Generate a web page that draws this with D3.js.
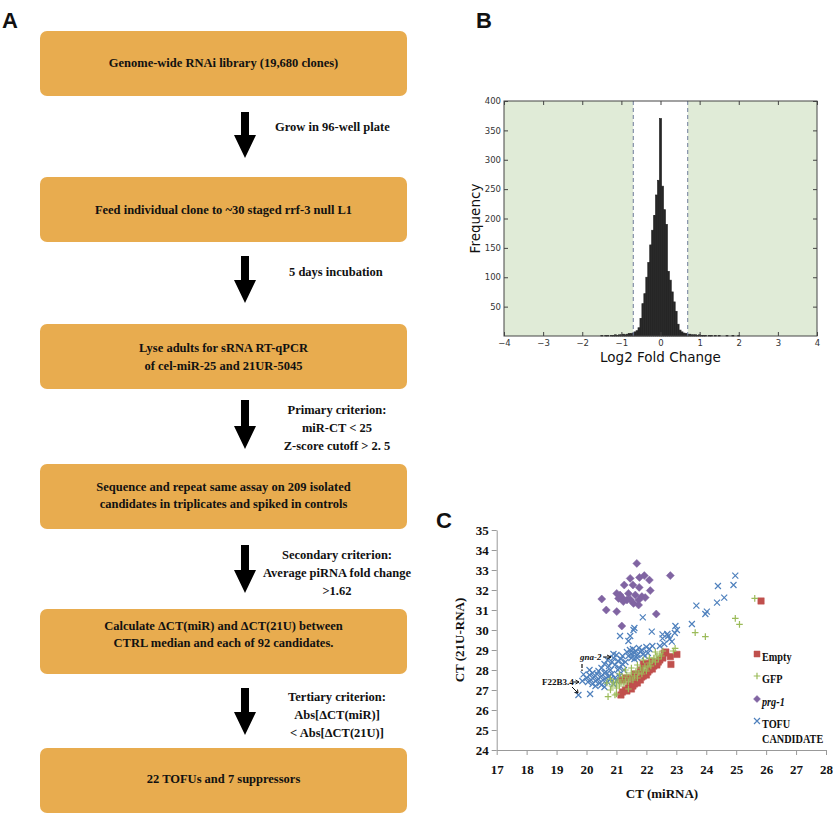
<!DOCTYPE html>
<html><head><meta charset="utf-8">
<script src="https://cdn.jsdelivr.net/npm/d3@7"></script>
<style>body{margin:0;background:#fff} svg{display:block}</style>
</head><body>
<svg id="c" width="833" height="814"></svg>
<script>
// ---------------- DATA ----------------
// Panel A: flow chart steps and transitions
const steps = [
  ["Genome-wide RNAi library (19,680 clones)"],
  ["Feed individual clone to ~30 staged rrf-3 null L1"],
  ["Lyse adults for sRNA RT-qPCR", "of cel-miR-25 and 21UR-5045"],
  ["Sequence and repeat same assay on 209 isolated", "candidates in triplicates and spiked in controls"],
  ["Calculate \u0394CT(miR) and \u0394CT(21U) between", "CTRL median and each of 92 candidates."],
  ["22 TOFUs and 7 suppressors"]
];
const transitions = [
  ["Grow in 96-well plate"],
  ["5 days incubation"],
  ["Primary criterion:", "miR-CT < 25", "Z-score cutoff > 2. 5"],
  ["Secondary criterion:", "Average piRNA fold change", ">1.62"],
  ["Tertiary criterion:", "Abs[\u0394CT(miR)]", "< Abs[\u0394CT(21U)]"]
];

// Panel B: histogram of log2 fold change (bin centre, count), bin width 0.05
const histBinWidth = 0.05;
const histBins = [
  [-1.50,1],[-1.45,0],[-1.40,1],[-1.35,1],[-1.30,0],[-1.25,1],[-1.20,1],[-1.15,2],[-1.10,1],[-1.05,2],
  [-1.00,2],[-0.95,3],[-0.90,2],[-0.85,3],[-0.80,4],[-0.75,4],[-0.70,5],[-0.65,7],[-0.60,9],[-0.55,14],
  [-0.50,30],[-0.45,55],[-0.40,72],[-0.35,100],[-0.30,125],[-0.25,155],[-0.20,180],[-0.15,205],[-0.10,240],[-0.05,265],
  [0.00,370],[0.05,255],[0.10,215],[0.15,190],[0.20,110],[0.25,95],[0.30,75],[0.35,58],[0.40,42],[0.45,20],
  [0.50,10],[0.55,7],[0.60,5],[0.65,4],[0.70,3],[0.75,3],[0.80,2],[0.85,2],[0.90,2],[0.95,1],
  [1.00,2],[1.05,1],[1.10,1],[1.15,1],[1.25,1],[1.30,1],[1.40,1],[1.50,1],[1.70,1],[1.85,1],[2.00,1]
];
const histCutoff = 0.696;            // log2(1.62)
const histXTicks = [-4,-3,-2,-1,0,1,2,3,4];
const histYTicks = [50,100,150,200,250,300,350,400];

// Panel C: scatter CT(miRNA) vs CT(21U-RNA)
const emptyPts = [
  [21.15,26.75],[21.2,26.9],[21.3,27.0],[21.35,26.95],[21.4,27.1],[21.5,27.05],[21.45,27.25],[21.55,27.2],
  [21.6,27.3],[21.65,27.45],[21.7,27.35],[21.75,27.55],[21.8,27.5],[21.85,27.65],[21.9,27.7],[21.95,27.8],
  [22.0,27.75],[22.05,27.9],[22.1,28.0],[22.15,28.1],[22.2,28.05],[22.25,28.2],[22.3,28.3],[22.35,28.25],
  [22.4,28.4],[22.45,28.5],[22.55,28.6],[22.6,28.85],[22.65,28.9],[22.8,28.67],[22.82,28.28],[23.02,28.78],
  [21.2,27.5],[21.3,27.6],[21.5,27.6],[21.6,27.8],[21.8,28.0],[22.0,28.33],[22.18,28.42],[22.35,28.33],
  [21.9,28.3],[25.83,31.45]
];
const gfpPts = [
  [20.72,26.67],[20.95,26.75],[20.68,27.35],[20.8,27.0],[20.85,27.2],[20.9,27.4],[21.0,27.1],[21.0,27.3],
  [21.05,27.5],[21.1,27.2],[21.15,27.4],[21.2,27.65],[21.25,27.3],[21.3,27.5],[21.35,27.75],[21.4,27.4],
  [21.45,27.6],[21.5,27.85],[21.55,27.5],[21.6,27.7],[21.65,27.95],[21.7,27.6],[21.75,27.85],[21.8,28.1],
  [21.85,27.8],[21.9,28.0],[21.95,28.2],[22.0,27.95],[22.05,28.15],[22.1,28.35],[22.15,28.2],[22.2,28.45],
  [22.25,28.6],[22.3,28.4],[22.35,28.7],[22.4,28.55],[22.45,28.8],[22.5,28.7],[22.55,28.95],[22.3,28.9],
  [22.1,28.6],[21.9,28.5],[21.7,28.25],[21.5,28.1],[21.3,28.0],[21.1,27.8],[22.96,29.08],[22.9,28.95],
  [23.63,29.87],[23.97,29.67],[24.97,30.58],[25.11,30.28],[25.62,31.58],[20.8,27.55],[21.0,26.8],[21.4,27.05]
];
const prgPts = [
  [21.68,33.33],[20.51,31.55],[20.66,31.0],[21.01,30.92],[21.18,30.2],[22.33,30.8],[22.8,32.72],[21.93,32.72],
  [21.77,32.63],[21.46,32.58],[22.1,32.5],[21.26,32.25],[21.55,32.25],[21.76,32.13],[22.13,31.97],[21.01,31.83],
  [21.12,31.75],[21.4,31.83],[21.63,31.75],[21.85,31.67],[21.07,31.58],[21.23,31.55],[21.46,31.53],[21.74,31.5],
  [21.96,31.62],[21.23,31.42],[21.57,31.33],[21.74,31.25],[21.35,31.5]
];
const tofuPts = [
  [24.97,32.72],[24.91,32.25],[24.39,32.2],[24.6,31.62],[24.36,31.37],[24.02,30.92],[23.97,30.8],[23.67,31.22],
  [23.52,30.3],[21.88,30.63],[22.97,30.2],[23.02,30.0],[22.95,29.85],[22.73,29.7],[22.78,29.55],[22.7,29.8],
  [22.54,29.78],[22.54,29.58],[22.18,29.92],[21.57,30.0],[21.6,30.1],[21.46,29.7],[21.4,29.45],[21.12,29.7],
  [22.85,29.42],[22.6,29.3],[22.45,29.2],
  [21.35,28.9],[21.45,29.0],[21.5,28.8],[21.55,29.05],[21.6,28.85],[21.65,28.95],[21.7,28.75],[21.75,29.1],
  [21.8,28.9],[21.85,29.0],[21.9,28.8],[22.0,29.15],[22.1,29.05],[22.2,29.2],[21.5,28.6],[21.6,28.55],
  [21.7,28.6],[21.95,28.7],[22.05,28.85],[21.4,28.7],
  [20.5,28.1],[20.6,28.3],[20.7,28.5],[20.75,28.2],[20.8,28.0],[20.85,28.4],[20.9,28.6],[20.95,28.25],
  [21.0,28.75],[21.05,28.45],[21.1,28.1],[21.15,28.55],[21.2,28.3],[21.25,28.0],[21.3,28.4],[20.65,27.9],
  [21.05,28.0],[21.2,28.7],[20.9,28.8],
  [19.73,26.75],[20.12,26.8],[19.9,27.78],[19.86,27.45],[20.0,27.6],[20.05,27.4],[20.1,27.75],[20.15,27.5],
  [20.2,27.3],[20.25,27.65],[20.3,27.45],[20.35,27.8],[20.4,27.55],[20.45,27.35],[20.5,27.7],[20.55,27.5],
  [20.6,27.85],[20.65,27.6],[20.7,27.4],[20.75,27.7],[20.8,27.55],[20.85,27.8],[20.9,27.3],[20.95,27.6],
  [21.0,27.45],[20.3,27.2],[20.5,27.25],[20.1,28.0],[20.4,27.95],[20.2,27.85],[21.1,27.7],[20.6,27.15]
];
const scatterXTicks = [17,18,19,20,21,22,23,24,25,26,27,28];
const scatterYTicks = [24,25,26,27,28,29,30,31,32,33,34,35];
const legendLabels = [["Empty"],["GFP"],["prg-1"],["TOFU","CANDIDATE"]];

// ---------------- DRAW ----------------
const svg = d3.select("#c");
const serif = "'Liberation Serif','Times New Roman',serif";
const sans = "'Liberation Sans',Arial,sans-serif";
const dv = "'DejaVu Sans',sans-serif";

// Panel letters
[["A",2,28],["B",476,28],["C",436,528]].forEach(([t,x,y]) =>
  svg.append("text").attr("x",x).attr("y",y).text(t)
    .attr("font-family",sans).attr("font-weight","bold").attr("font-size",22).attr("fill","#111"));

// ---- Panel A ----
const boxTop = [31,177,324,464,609,748];
const boxH = 65, boxX0 = 40, boxX1 = 407;
const textY = [[63],[210],[348,366],[487,504],[626,643],[779]];
const gA = svg.append("g");
steps.forEach((lines,i) => {
  gA.append("rect").attr("x",boxX0).attr("y",boxTop[i]).attr("width",boxX1-boxX0).attr("height",boxH)
    .attr("rx",7).attr("fill","#e8ac4f");
  lines.forEach((l,j) => gA.append("text").attr("x",(boxX0+boxX1)/2).attr("y",textY[i][j])
    .attr("dy","0.35em").attr("text-anchor","middle").text(l)
    .attr("font-family",serif).attr("font-weight","bold").attr("font-size",12.5).attr("fill","#111"));
});
const arrowY = [[112,158],[256,303],[400,449],[545,593],[688,735]];
const labY = [[127],[272],[410,428,446],[555,573,591],[697,715,733]];
const ax = 245;
transitions.forEach((lines,i) => {
  const [y0,y1] = arrowY[i];
  gA.append("path").attr("d",`M${ax-4},${y0}L${ax+4},${y0}L${ax+4},${y1-23}L${ax+11},${y1-23}L${ax},${y1}L${ax-11},${y1-23}L${ax-4},${y1-23}Z`)
    .attr("fill","#000");
  lines.forEach((l,j) => gA.append("text").attr("x",i<2?(i==0?275:289):337).attr("y",labY[i][j])
    .attr("dy","0.35em").attr("text-anchor",i<2?"start":"middle").text(l)
    .attr("font-family",serif).attr("font-weight","bold").attr("font-size",12.5).attr("fill","#111"));
});

// ---- Panel B ----
const hx = d3.scaleLinear().domain([-4,4]).range([504,817]);
const hy = d3.scaleLinear().domain([0,400]).range([336,101]);
const gB = svg.append("g");
gB.append("rect").attr("x",hx(-4)).attr("y",hy(400)).attr("width",hx(-histCutoff)-hx(-4)).attr("height",hy(0)-hy(400)).attr("fill","#e0ebd7");
gB.append("rect").attr("x",hx(histCutoff)).attr("y",hy(400)).attr("width",hx(4)-hx(histCutoff)).attr("height",hy(0)-hy(400)).attr("fill","#e0ebd7");
gB.selectAll("rect.bar").data(histBins.filter(d=>d[1]>0)).join("rect").attr("class","bar")
  .attr("x",d=>hx(d[0]-histBinWidth/2)).attr("width",d=>hx(d[0]+histBinWidth/2)-hx(d[0]-histBinWidth/2))
  .attr("y",d=>hy(d[1])).attr("height",d=>hy(0)-hy(d[1])).attr("fill","#262626").attr("stroke","#262626").attr("stroke-width",0.7);
[-histCutoff,histCutoff].forEach(v => gB.append("line").attr("x1",hx(v)).attr("x2",hx(v)).attr("y1",hy(0)).attr("y2",hy(400))
  .attr("stroke","#6e7b9a").attr("stroke-width",1).attr("stroke-dasharray","4,3"));
// frame
gB.append("rect").attr("x",hx(-4)).attr("y",hy(400)).attr("width",hx(4)-hx(-4)).attr("height",hy(0)-hy(400))
  .attr("fill","none").attr("stroke","#444").attr("stroke-width",1);
const fmtMinus = d => String(d).replace("-","\u2212");
const xAxB = d3.axisBottom(hx).tickValues(histXTicks).tickSize(-4).tickPadding(4).tickFormat(fmtMinus);
const xAxT = d3.axisTop(hx).tickValues(histXTicks).tickSize(-4).tickFormat("");
const yAxL = d3.axisLeft(hy).tickValues(histYTicks).tickSize(-4).tickPadding(3);
const yAxR = d3.axisRight(hy).tickValues(histYTicks).tickSize(-4).tickFormat("");
[[xAxB,`translate(0,${hy(0)})`],[xAxT,`translate(0,${hy(400)})`],[yAxL,`translate(${hx(-4)},0)`],[yAxR,`translate(${hx(4)},0)`]]
 .forEach(([a,t]) => {
   const g = gB.append("g").attr("transform",t).call(a);
   g.select(".domain").remove();
   g.selectAll(".tick line").attr("stroke","#444");
   g.selectAll("text").attr("font-family",dv).attr("font-size",8.5).attr("fill","#333");
 });
gB.append("text").attr("x",hx(0)).attr("y",362).attr("text-anchor","middle").text("Log2 Fold Change")
  .attr("font-family",dv).attr("font-size",13.5).attr("fill","#111");
gB.append("text").attr("transform",`translate(480,${(hy(0)+hy(400))/2}) rotate(-90)`).attr("text-anchor","middle").text("Frequency")
  .attr("font-family",dv).attr("font-size",13.5).attr("fill","#111");

// ---- Panel C ----
const sx = d3.scaleLinear().domain([17,28]).range([496.7,826]);
const sy = d3.scaleLinear().domain([24,35]).range([750,530]);
const gC = svg.append("g");
const xAx = gC.append("g").attr("transform",`translate(0,750)`).call(d3.axisBottom(sx).tickValues(scatterXTicks).tickSize(5).tickPadding(10).tickSizeOuter(0));
const yAx = gC.append("g").attr("transform",`translate(496.7,0)`).call(d3.axisLeft(sy).tickValues(scatterYTicks).tickSize(5).tickPadding(3).tickSizeOuter(0));
[xAx,yAx].forEach(g => {
  g.select(".domain").attr("stroke","#999");
  g.selectAll(".tick line").attr("stroke","#999");
  g.selectAll("text").attr("font-family",serif).attr("font-weight","bold").attr("font-size",13).attr("fill","#111");
});
gC.append("text").attr("x",662).attr("y",798).attr("text-anchor","middle").text("CT (miRNA)")
  .attr("font-family",serif).attr("font-weight","bold").attr("font-size",13).attr("fill","#111");
gC.append("text").attr("transform",`translate(464,640) rotate(-90)`).attr("text-anchor","middle").text("CT (21U-RNA)")
  .attr("font-family",serif).attr("font-weight","bold").attr("font-size",13).attr("fill","#111");

const cRed="#c0504d", cGreen="#9bbb59", cPurple="#8064a2", cBlue="#4f81bd";
const marker = {
  square: s => `M${-s},${-s}H${s}V${s}H${-s}Z`,
  diamond: s => `M0,${-s}L${s},0L0,${s}L${-s},0Z`,
  plus: s => `M${-s},0H${s}M0,${-s}V${s}`,
  cross: s => `M${-s},${-s}L${s},${s}M${-s},${s}L${s},${-s}`
};
function drawSeries(data, type, color, size, filled){
  gC.append("g").selectAll("path").data(data).join("path")
    .attr("transform",d=>`translate(${sx(d[0])},${sy(d[1])})`)
    .attr("d",marker[type](size))
    .attr("fill",filled?color:"none").attr("stroke",color).attr("stroke-width",filled?0.5:1.2);
}
drawSeries(tofuPts,"cross",cBlue,3,false);
drawSeries(prgPts,"diamond",cPurple,4,true);
drawSeries(emptyPts,"square",cRed,3.2,true);
drawSeries(gfpPts,"plus",cGreen,3.3,false);

// legend
const legTypes = [["square",cRed,3,true],["plus",cGreen,3.3,false],["diamond",cPurple,3.5,true],["cross",cBlue,3,false]];
const legY = [657,679,702,724];
legendLabels.forEach((lines,i) => {
  const [t,c,s,f] = legTypes[i];
  gC.append("path").attr("transform",`translate(757,${legY[i]-3})`).attr("d",marker[t](s))
    .attr("fill",f?c:"none").attr("stroke",c).attr("stroke-width",f?0.5:1.2);
  lines.forEach((l,j) => gC.append("text").attr("transform",`translate(762,${legY[i]+j*15}) scale(0.82,1)`).attr("dy","0.35em").text(l)
    .attr("font-family",serif).attr("font-weight","bold").attr("font-style",i==2?"italic":"normal")
    .attr("font-size",12.5).attr("fill","#111"));
});

// annotations
gC.append("text").attr("x",580).attr("y",660).text("gna-2")
  .attr("font-family",serif).attr("font-weight","bold").attr("font-style","italic").attr("font-size",9).attr("fill","#111");
gC.append("text").attr("x",542).attr("y",685).text("F22B3.4")
  .attr("font-family",serif).attr("font-weight","bold").attr("font-size",9).attr("fill","#111");
gC.append("path").attr("d","M603,657L611,657M611,657L607,655M611,657L607,659").attr("stroke","#111").attr("stroke-width",1).attr("fill","none");
gC.append("path").attr("d","M582,664L582,668M582,669.5L582,671").attr("stroke","#111").attr("stroke-width",1.2).attr("fill","none");
gC.append("path").attr("d","M573,682L579,682M579,682L575.5,680M579,682L575.5,684").attr("stroke","#111").attr("stroke-width",1).attr("fill","none");
gC.append("path").attr("d","M572,687L578,693M578,693L574.5,692.5M578,693L577.5,689.5").attr("stroke","#111").attr("stroke-width",1).attr("fill","none");
</script></body></html>
